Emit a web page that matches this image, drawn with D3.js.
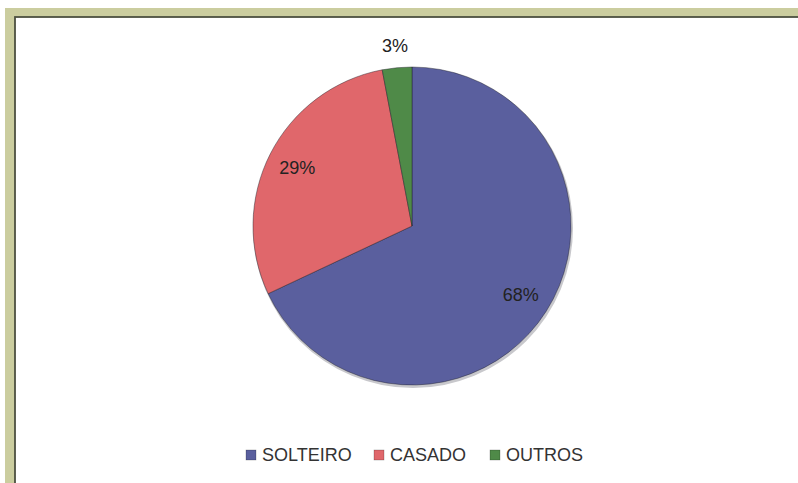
<!DOCTYPE html>
<html>
<head>
<meta charset="utf-8">
<script src="https://cdn.jsdelivr.net/npm/d3@7"></script>
<style>
  html, body { margin: 0; padding: 0; background: #fff; }
  svg { display: block; }
</style>
</head>
<body>
<div id="chart"></div>
<script>
// Estado civil - shares
const categories = ['SOLTEIRO', 'CASADO', 'OUTROS'];
const values = [68, 29, 3];
const colors = ['#5a5f9e', '#e0676b', '#4f8a48'];

const width = 798, height = 483;
const cx = 412, cy = 226, radius = 159;

const svg = d3.select('#chart')
  .append('svg')
  .attr('width', width)
  .attr('height', height);

// scanned frame: khaki band with a dark inner line (runs off the right and bottom)
svg.append('rect')
  .attr('x', 5).attr('y', 8)
  .attr('width', width + 20).attr('height', height + 20)
  .attr('fill', '#cbcd9f');
svg.append('rect')
  .attr('x', 15).attr('y', 17)
  .attr('width', width + 20).attr('height', height + 20)
  .attr('fill', '#fff')
  .attr('stroke', '#4d5040')
  .attr('stroke-width', 1.8);

const data = categories.map((c, i) => ({ name: c, value: values[i], color: colors[i] }));

const pie = d3.pie()
  .sort(null)
  .value(d => d.value);

const arc = d3.arc()
  .innerRadius(0)
  .outerRadius(radius);

const arcs = pie(data);

const g = svg.append('g')
  .attr('transform', `translate(${cx},${cy})`);

// soft shadow under the pie
g.append('circle')
  .attr('cx', 1).attr('cy', 2)
  .attr('r', radius + 1)
  .attr('fill', '#c8c8cc');

g.selectAll('path.slice')
  .data(arcs)
  .join('path')
  .attr('class', 'slice')
  .attr('d', arc)
  .attr('fill', d => d.data.color)
  .attr('stroke', 'rgba(30,30,40,0.55)')
  .attr('stroke-width', 0.8);

// data labels: inside for the big slices, outside for the small one
const labelInside = d3.arc().innerRadius(radius * 0.81).outerRadius(radius * 0.81);
const labelOutside = d3.arc().innerRadius(radius + 22).outerRadius(radius + 22);

g.selectAll('text.lbl')
  .data(arcs)
  .join('text')
  .attr('class', 'lbl')
  .attr('transform', d => {
    const a = d.data.value < 5 ? labelOutside : labelInside;
    const [x, y] = a.centroid(d);
    return `translate(${x},${y})`;
  })
  .attr('text-anchor', 'middle')
  .attr('dominant-baseline', 'central')
  .attr('font-family', '"Liberation Sans", Arial, sans-serif')
  .attr('font-size', 18)
  .attr('fill', '#222')
  .text(d => d.data.value + '%');

// legend
const legendX = [246, 374, 490];
const legend = svg.append('g')
  .attr('font-family', '"Liberation Sans", Arial, sans-serif')
  .attr('font-size', 18)
  .attr('fill', '#333');

const item = legend.selectAll('g')
  .data(data)
  .join('g')
  .attr('transform', (d, i) => `translate(${legendX[i]},455)`);

item.append('rect')
  .attr('x', 0).attr('y', -5)
  .attr('width', 10).attr('height', 10)
  .attr('fill', d => d.color)
  .attr('stroke', 'rgba(0,0,0,0.35)')
  .attr('stroke-width', 0.6);

item.append('text')
  .attr('x', 16)
  .attr('dy', '0.36em')
  .text(d => d.name);
</script>
</body>
</html>
